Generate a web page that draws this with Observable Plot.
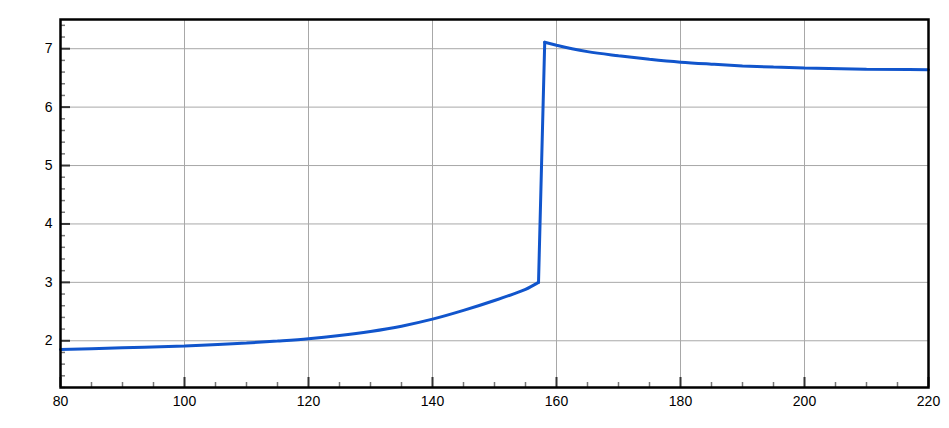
<!DOCTYPE html>
<html>
<head>
<meta charset="utf-8">
<script src="https://cdn.jsdelivr.net/npm/d3@7"></script>
<script src="https://cdn.jsdelivr.net/npm/@observablehq/plot@0.6"></script>
<style>
  html, body { margin: 0; padding: 0; background: #fff; }
  #chart svg { display: block; }
</style>
</head>
<body>
<div id="chart"></div>
<script>
const xs = [80, 90, 100, 110, 115, 120, 125, 130, 135, 140, 145, 150, 153, 155, 157.1, 158.1, 160, 162.5, 165, 170, 175, 180, 185, 190, 195, 200, 210, 220];
const ys = [1.85, 1.88, 1.91, 1.96, 1.995, 2.035, 2.09, 2.16, 2.25, 2.37, 2.52, 2.69, 2.80, 2.88, 3.00, 7.11, 7.06, 7.00, 6.95, 6.88, 6.82, 6.77, 6.735, 6.705, 6.685, 6.67, 6.65, 6.64];
const jumpIndex = 14; // last point before the jump

const xMajor = [80, 100, 120, 140, 160, 180, 200, 220];
const yMajor = [2, 3, 4, 5, 6, 7];
const xMinor = d3.range(85, 220, 5).filter(v => v % 20 !== 0);
const yMinor = d3.range(12, 76, 2).map(v => v / 10).filter(v => Math.abs(v - Math.round(v)) > 1e-9);

const data = [];
xs.forEach((x, i) => {
  if (i <= jumpIndex) data.push({x, y: ys[i], seg: "low"});
  if (i > jumpIndex) data.push({x, y: ys[i], seg: "high"});
  if (i === jumpIndex || i === jumpIndex + 1) data.push({x, y: ys[i], seg: "jump"});
});

const W = 949, H = 428;
const mL = 60, mR = 21, mT = 19, mB = 41;
const pw = W - mL - mR, ph = H - mT - mB;
const font = "'Liberation Sans', Arial, Helvetica, sans-serif";

const chart = Plot.plot({
  width: W,
  height: H,
  marginLeft: mL,
  marginRight: mR,
  marginTop: mT,
  marginBottom: mB,
  style: {fontFamily: font, fontSize: "14px", color: "#000", background: "#fff"},
  x: {domain: [80, 220], label: null},
  y: {domain: [1.2, 7.5], label: null},
  marks: [
    Plot.gridX(xMajor, {stroke: "#a8a8a8", strokeOpacity: 1, strokeWidth: 1}),
    Plot.gridY(yMajor, {stroke: "#a8a8a8", strokeOpacity: 1, strokeWidth: 1}),
    Plot.tickX(xMinor, {x: d => d, insetTop: ph - 5, stroke: "#777", strokeWidth: 1.5}),
    Plot.tickX(xMajor, {x: d => d, insetTop: ph - 10, stroke: "#333", strokeWidth: 2}),
    Plot.tickY(yMinor, {y: d => d, insetRight: pw - 5, stroke: "#777", strokeWidth: 1.5}),
    Plot.tickY(yMajor, {y: d => d, insetRight: pw - 10, stroke: "#333", strokeWidth: 2}),
    Plot.axisX(xMajor, {tickSize: 0, tickPadding: 9, fill: "#000", label: null, tickFormat: "d", fontSize: 14, fontFamily: font}),
    Plot.axisY(yMajor, {tickSize: 0, tickPadding: 8, fill: "#000", label: null, tickFormat: "d", fontSize: 14, fontFamily: font}),
    Plot.line(data, {x: "x", y: "y", z: "seg", stroke: "#1155cc", strokeWidth: 3, curve: "monotone-x", strokeLinejoin: "miter"}),
    Plot.frame({stroke: "#000", strokeWidth: 2.5})
  ]
});
document.getElementById("chart").appendChild(chart);
</script>
</body>
</html>
